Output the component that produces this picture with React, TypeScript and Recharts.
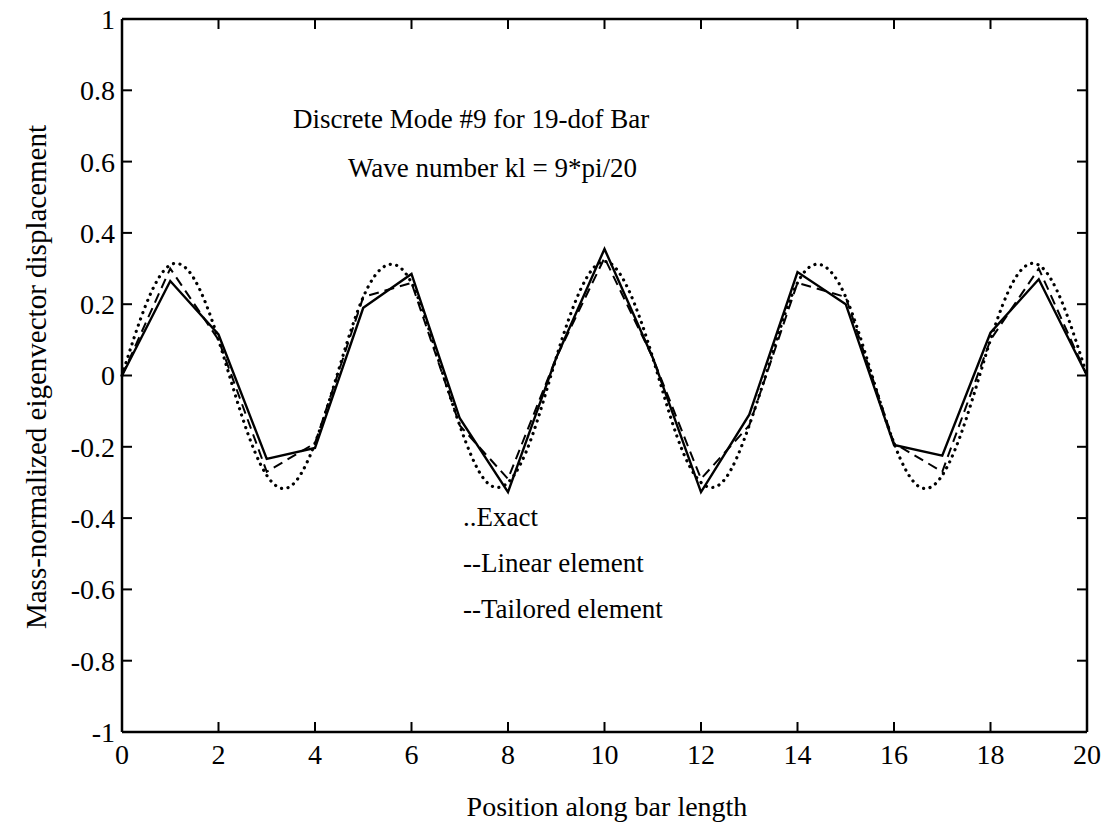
import { LineChart, Line, XAxis, YAxis } from "recharts";

const xTicks = [0, 2, 4, 6, 8, 10, 12, 14, 16, 18, 20];
const yTicks = [-1, -0.8, -0.6, -0.4, -0.2, 0, 0.2, 0.4, 0.6, 0.8, 1];

// exact mode shape, read at half-unit steps
const exactX = [0, 0.5, 1, 1.5, 2, 2.5, 3, 3.5, 4, 4.5, 5, 5.5, 6, 6.5, 7, 7.5, 8, 8.5, 9, 9.5, 10,
  10.5, 11, 11.5, 12, 12.5, 13, 13.5, 14, 14.5, 15, 15.5, 16, 16.5, 17, 17.5, 18, 18.5, 19, 19.5, 20];
const exactY = [0, 0.2, 0.31, 0.27, 0.1, -0.12, -0.28, -0.31, -0.19, 0.02, 0.22, 0.31, 0.26, 0.07, -0.14, -0.29, -0.3, -0.17, 0.05, 0.24, 0.32,
  0.24, 0.05, -0.17, -0.3, -0.29, -0.14, 0.07, 0.26, 0.31, 0.22, 0.02, -0.19, -0.31, -0.28, -0.12, 0.1, 0.27, 0.31, 0.2, 0];

// nodal values
const nodes = [0, 1, 2, 3, 4, 5, 6, 7, 8, 9, 10, 11, 12, 13, 14, 15, 16, 17, 18, 19, 20];
const linearY = [0, 0.3, 0.1, -0.27, -0.19, 0.22, 0.26, -0.14, -0.29, 0.05, 0.33,
  0.05, -0.29, -0.14, 0.26, 0.22, -0.19, -0.27, 0.1, 0.3, 0];
const tailoredY = [0, 0.265, 0.115, -0.234, -0.203, 0.19, 0.285, -0.12, -0.327, 0.05, 0.355,
  0.05, -0.327, -0.11, 0.29, 0.2, -0.195, -0.225, 0.12, 0.27, 0];

const exactData = exactX.map((x, i) => ({ x, y: exactY[i] }));
const linearData = nodes.map((x, i) => ({ x, y: linearY[i] }));
const tailoredData = nodes.map((x, i) => ({ x, y: tailoredY[i] }));

const font = "'Liberation Serif', 'Times New Roman', serif";
const tickStyle = { fontFamily: font, fontSize: 28, fill: "#000" };
const axisLine = { stroke: "#000", strokeWidth: 2.5 };
const tickLine = { stroke: "#000", strokeWidth: 2 };

const App = () => {
  return (
    <div style={{ position: "absolute", left: 0, top: 0, width: 1108, height: 834, background: "#fff" }}>
      <LineChart width={1108} height={834} margin={{ top: 18, right: 20, bottom: 101, left: 121 }}>
        <XAxis
          xAxisId="b"
          dataKey="x"
          type="number"
          domain={[0, 20]}
          ticks={xTicks}
          height={1}
          tickSize={-10}
          tickMargin={22}
          tick={tickStyle}
          axisLine={axisLine}
          tickLine={tickLine}
          allowDuplicatedCategory={false}
        />
        <XAxis
          xAxisId="t"
          orientation="top"
          dataKey="x"
          type="number"
          domain={[0, 20]}
          ticks={xTicks}
          height={1}
          tickSize={-10}
          tickFormatter={() => ""}
          axisLine={axisLine}
          tickLine={tickLine}
        />
        <YAxis
          yAxisId="l"
          type="number"
          domain={[-1, 1]}
          ticks={yTicks}
          width={1}
          tickSize={-10}
          tickMargin={17}
          tick={tickStyle}
          axisLine={axisLine}
          tickLine={tickLine}
        />
        <YAxis
          yAxisId="r"
          orientation="right"
          type="number"
          domain={[-1, 1]}
          ticks={yTicks}
          width={1}
          tickSize={-10}
          tickFormatter={() => ""}
          axisLine={axisLine}
          tickLine={tickLine}
        />
        <Line
          xAxisId="b"
          yAxisId="l"
          data={exactData}
          dataKey="y"
          type="natural"
          stroke="#000"
          strokeWidth={3.2}
          strokeDasharray="0.1 6.5"
          strokeLinecap="round"
          dot={false}
          isAnimationActive={false}
        />
        <Line
          xAxisId="b"
          yAxisId="l"
          data={linearData}
          dataKey="y"
          type="linear"
          stroke="#000"
          strokeWidth={2}
          strokeDasharray="10 6"
          dot={false}
          isAnimationActive={false}
        />
        <Line
          xAxisId="t"
          yAxisId="r"
          data={tailoredData}
          dataKey="y"
          type="linear"
          stroke="#000"
          strokeWidth={2.4}
          dot={false}
          isAnimationActive={false}
        />
      </LineChart>
      <svg
        width={1108}
        height={834}
        style={{ position: "absolute", left: 0, top: 0, pointerEvents: "none" }}
        fontFamily={font}
        fill="#000"
      >
        <text x={293} y={128} fontSize={27}>Discrete Mode #9 for 19-dof Bar</text>
        <text x={348} y={177} fontSize={27}>Wave number kl = 9*pi/20</text>
        <text x={463} y={526} fontSize={27}>..Exact</text>
        <text x={463} y={572} fontSize={27}>--Linear element</text>
        <text x={463} y={618} fontSize={27}>--Tailored element</text>
        <text x={607} y={816} fontSize={28} textAnchor="middle">Position along bar length</text>
        <text transform="translate(46,377) rotate(-90)" fontSize={29} textAnchor="middle">
          Mass-normalized eigenvector displacement
        </text>
      </svg>
    </div>
  );
};

export default App;
